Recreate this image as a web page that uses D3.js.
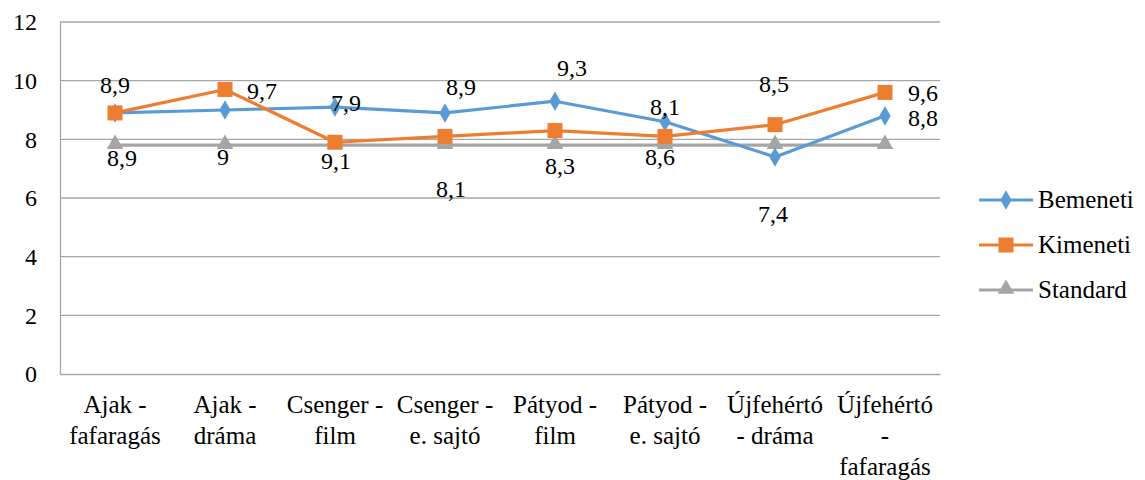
<!DOCTYPE html>
<html>
<head>
<meta charset="utf-8">
<script src="https://cdn.jsdelivr.net/npm/d3@7"></script>
<style>
  svg text, svg tspan { font-family: 'Liberation Serif', serif !important; }
</style>
</head>
<body style="margin:0;padding:0;background:#fff">
<svg id="chart" width="1145" height="480" style="display:block;font-family:'Liberation Serif'"></svg>
<script>
const categories = ["Ajak - fafaragás", "Ajak - dráma", "Csenger - film", "Csenger - e. sajtó",
                    "Pátyod - film", "Pátyod - e. sajtó", "Újfehértó - dráma", "Újfehértó - fafaragás"];
const bemeneti = [8.9, 9.0, 9.1, 8.9, 9.3, 8.6, 7.4, 8.8];
const kimeneti = [8.9, 9.7, 7.9, 8.1, 8.3, 8.1, 8.5, 9.6];
const standard = [7.8, 7.8, 7.8, 7.8, 7.8, 7.8, 7.8, 7.8];
const yTicks = [0, 2, 4, 6, 8, 10, 12];
const seriesNames = ["Bemeneti", "Kimeneti", "Standard"];

// label placement offsets (dx to text centre, dy to baseline) relative to each point
const bemenetiLabelOffsets = [[7,53],[-2,55],[1,62],[16,-18],[17,-25],[-5,43],[-2,65],[38,10]];
const kimenetiLabelOffsets = [[0,-20],[37,10],[11,-31],[6,61],[5,43],[0,-21],[-1,-33],[38,9]];

const colors = {Bemeneti: "#5B9BD5", Kimeneti: "#ED7D31", Standard: "#A5A5A5"};
const FONT = 25, NUMFONT = 24;
function serif(sel, size) {
  sel.attr("font-family", "Liberation Serif")
     .attr("style", `font-family:'Liberation Serif',serif !important;font-size:${size}px`)
     .attr("font-size", size).attr("fill", "#000");
  return sel;
}

const svg = d3.select("#chart");
const margin = {left: 60, right: 205, top: 22, bottom: 106};
const W = 1145, H = 480;
const x = d3.scaleBand().domain(categories).range([margin.left, W - margin.right]);
const y = d3.scaleLinear().domain([0, 12]).range([H - margin.bottom, margin.top]);
const cx = c => x(c) + x.bandwidth() / 2;

// gridlines
svg.append("g").selectAll("line").data(yTicks.filter(t => t > 0)).join("line")
  .attr("x1", margin.left).attr("x2", W - margin.right)
  .attr("y1", d => y(d)).attr("y2", d => y(d))
  .attr("stroke", "#a6a6a6").attr("stroke-width", 1.3);

// y axis
const yAxis = svg.append("g").attr("transform", `translate(${margin.left},0)`)
  .call(d3.axisLeft(y).tickValues(yTicks).tickSize(0).tickPadding(23).tickFormat(d3.format("d")));
yAxis.attr("font-family", "Liberation Serif");
yAxis.select(".domain").attr("stroke", "#a6a6a6").attr("stroke-width", 1.3);
serif(yAxis.selectAll("text"), NUMFONT);

// x axis
const xAxis = svg.append("g").attr("transform", `translate(0,${y(0)})`)
  .call(d3.axisBottom(x).tickSize(0).tickPadding(0));
xAxis.attr("font-family", "Liberation Serif");
xAxis.select(".domain").attr("stroke", "#a6a6a6").attr("stroke-width", 1.3);
xAxis.selectAll("text").each(function(d) {
  const t = d3.select(this);
  t.text(null).attr("y", 0).attr("dy", null);
  serif(t, FONT);
  const words = d.split(" ");
  const lines = [];
  let cur = "";
  const probe = t.append("tspan");
  for (const w of words) {
    const test = cur ? cur + " " + w : w;
    probe.text(test);
    if (cur && probe.node().getComputedTextLength() > 102) { lines.push(cur); cur = w; }
    else cur = test;
  }
  lines.push(cur);
  probe.remove();
  lines.forEach((ln, i) => {
    t.append("tspan").attr("x", 0).attr("y", 39 + i * 31).text(ln);
  });
});

const series = [
  {name: "Bemeneti", values: bemeneti, offsets: bemenetiLabelOffsets},
  {name: "Kimeneti", values: kimeneti, offsets: kimenetiLabelOffsets},
  {name: "Standard", values: standard, offsets: null}
];

const line = d3.line().x((d, i) => cx(categories[i])).y(d => y(d));

function marker(g, name, px, py) {
  const c = colors[name];
  if (name === "Bemeneti") {
    g.append("path").attr("d", d3.symbol(d3.symbolDiamond, 110)()).attr("transform", `translate(${px},${py})`).attr("fill", c);
  } else if (name === "Kimeneti") {
    g.append("rect").attr("x", px - 7.5).attr("y", py - 7.5).attr("width", 15).attr("height", 15).attr("fill", c);
  } else {
    g.append("path").attr("d", d3.symbol(d3.symbolTriangle, 120)()).attr("transform", `translate(${px},${py - 1})`).attr("fill", c);
  }
}

const order = [series[2], series[0], series[1]];
order.forEach(s => {
  const g = svg.append("g");
  g.append("path").datum(s.values).attr("d", line)
    .attr("fill", "none").attr("stroke", colors[s.name]).attr("stroke-width", 3.2)
    .attr("stroke-linejoin", "round").attr("stroke-linecap", "round");
  s.values.forEach((v, i) => marker(g, s.name, cx(categories[i]), y(v)));
});

// data labels
const fmt = v => String(v).replace(".", ",");
series.filter(s => s.offsets).forEach(s => {
  const lab = svg.append("g").selectAll("text").data(s.values).join("text")
    .attr("x", (d, i) => cx(categories[i]) + s.offsets[i][0])
    .attr("y", (d, i) => y(d) + s.offsets[i][1])
    .attr("text-anchor", "middle")
    .text(d => fmt(d));
  serif(lab, NUMFONT);
});

// legend
const legend = svg.append("g");
const legendY = [200, 245, 290];
seriesNames.forEach((name, i) => {
  const g = legend.append("g");
  const ly = legendY[i];
  g.append("line").attr("x1", 979).attr("x2", 1033).attr("y1", ly).attr("y2", ly)
    .attr("stroke", colors[name]).attr("stroke-width", 3.2);
  marker(g, name, 1006, ly);
  const t = g.append("text").attr("x", 1038).attr("y", ly).attr("dy", "0.33em").text(name);
  serif(t, FONT);
});
</script>
</body>
</html>
